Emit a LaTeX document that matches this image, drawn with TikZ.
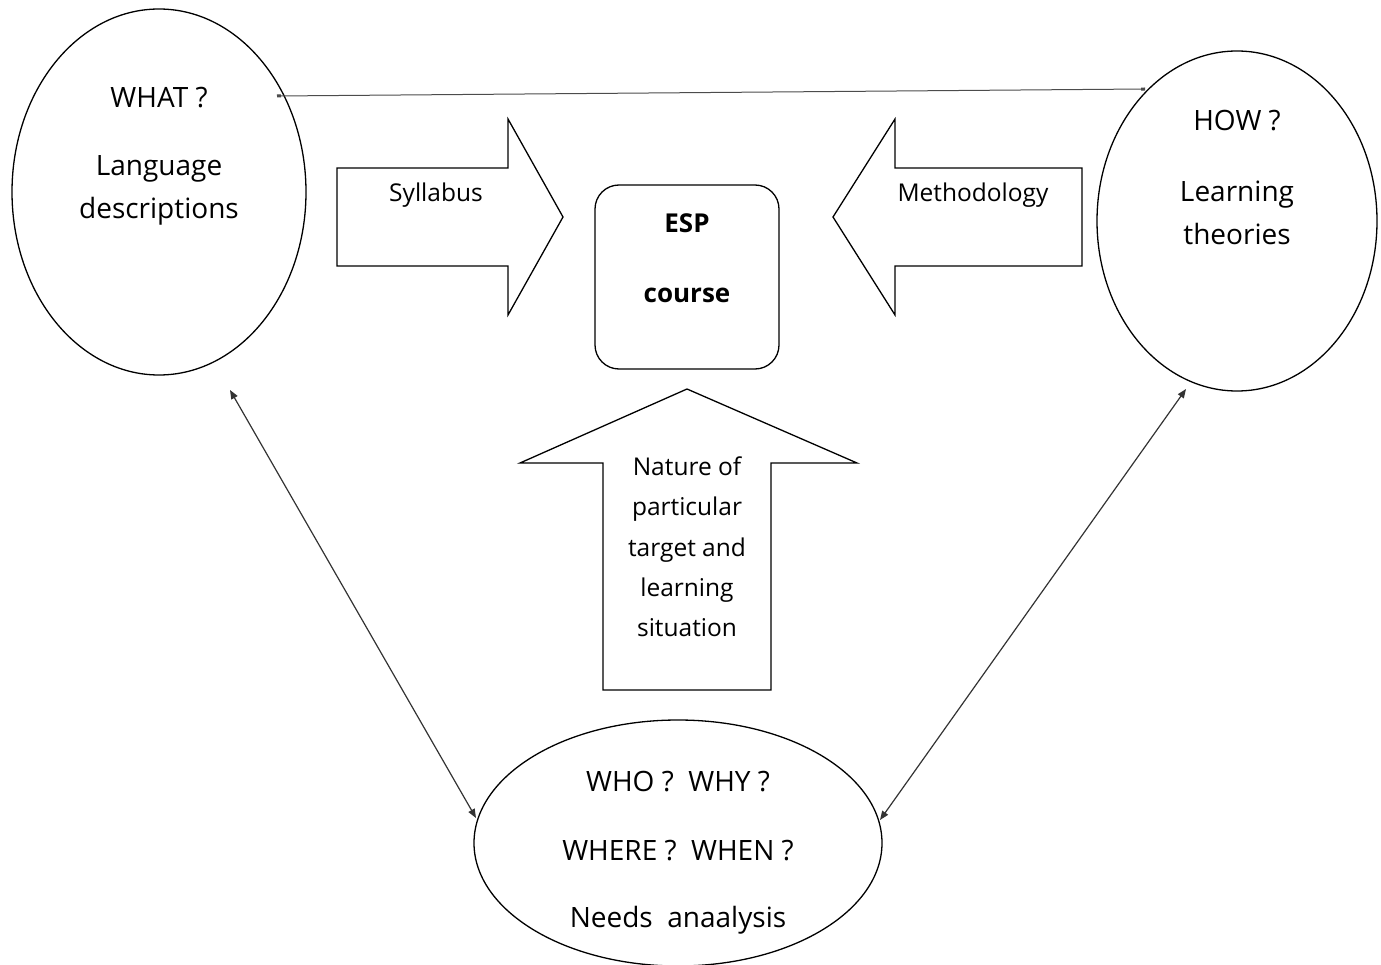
\documentclass[tikz,border=0pt]{standalone}
\usepackage{fontspec}
\setmainfont{Open Sans}
\usetikzlibrary{arrows.meta,shapes.geometric}
\begin{document}
\begin{tikzpicture}[x=1pt,y=-1pt,
  shape line/.style={draw=black, line width=1.3pt},
  lbl/.style={font=\fontsize{28}{43}\selectfont, align=center, inner sep=0pt},
  small lbl/.style={font=\fontsize{24.5}{40.3}\selectfont, align=center, inner sep=0pt},
  conn/.style={draw=black!80, line width=1.2pt, {Triangle[length=9pt,width=7pt]}-{Triangle[length=9pt,width=7pt]}},
  thin conn/.style={draw=black!70, line width=1pt, {Rectangle[length=4pt,width=3pt]}-{Rectangle[length=4pt,width=3pt]}}]
\useasboundingbox (0,0) rectangle (1381,965);
% ellipses
\node[shape line, ellipse, minimum width=294pt, minimum height=366pt, inner sep=0pt] (what) at (159,192) {};
\node[shape line, ellipse, minimum width=280pt, minimum height=340pt, inner sep=0pt] (how) at (1237,221) {};
\node[shape line, ellipse, minimum width=408pt, minimum height=246pt, inner sep=0pt] (who) at (678,843) {};
% box
\node[shape line, rounded corners=24pt, minimum width=184pt, minimum height=184pt, inner sep=0pt] (esp) at (687,277) {};
% block arrows
\draw[shape line] (337,168) -- (508,168) -- (508,119) -- (563,217) -- (508,315) -- (508,266) -- (337,266) -- cycle;
\draw[shape line] (1082,168) -- (895,168) -- (895,119) -- (833,217) -- (895,315) -- (895,266) -- (1082,266) -- cycle;
\draw[shape line] (603,690) -- (603,463) -- (520,463) -- (687,389) -- (857,463) -- (771,463) -- (771,690) -- cycle;
% texts
\node[lbl] (t1) at (159,98) {WHAT ?};
\node[lbl] (t2) at (159,190) {Language\\descriptions};
\node[lbl] (t3) at (1237,121) {HOW ?};
\node[lbl] (t4) at (1237,213) {Learning\\theories};
\node[lbl, font=\fontsize{26}{70}\selectfont\bfseries] (t5) at (687,258) {ESP\\course};
\node[small lbl] (t6) at (436,195) {Syllabus};
\node[small lbl] (t7) at (973,195) {Methodology};
\node[small lbl] (t8) at (687,547) {Nature of\\particular\\target and\\learning\\situation};
\node[lbl] (t9) at (678,782) {WHO ?\ \ WHY ?};
\node[lbl] (t10) at (678,851) {WHERE ?\ \ WHEN ?};
\node[lbl] (t11) at (678,920) {Needs\ \ anaalysis};
% connectors
\coordinate (a1) at (277,96);
\coordinate (a2) at (1145,89);
\draw[thin conn] (a1) -- (a2);
\coordinate (b1) at (230,390);
\coordinate (b2) at (476,818);
\draw[conn] (b1) -- (b2);
\coordinate (c1) at (1186,389);
\coordinate (c2) at (880,820);
\draw[conn] (c1) -- (c2);
\end{tikzpicture}
\end{document}
